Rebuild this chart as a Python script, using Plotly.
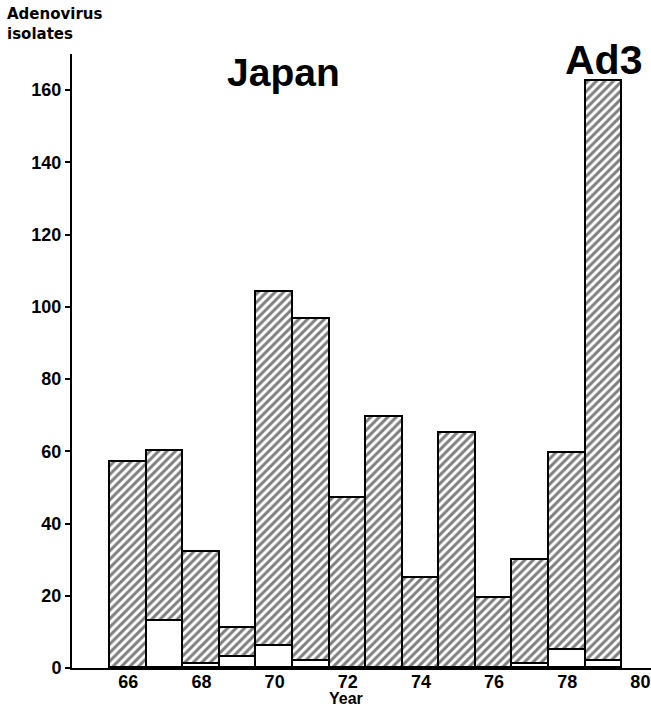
import plotly.graph_objects as go

years = [66, 67, 68, 69, 70, 71, 72, 73, 74, 75, 76, 77, 78, 79]
total_isolates = [57, 60, 32, 11, 104, 96.5, 47, 69.5, 25, 65, 19.5, 30, 59.5, 162.5]
other_isolates = [0, 13, 1, 3, 6, 2, 0, 0, 0, 0, 0, 1, 5, 2]
ad3_isolates = [t - o for t, o in zip(total_isolates, other_isolates)]

x_tick_vals = [66, 68, 70, 72, 74, 76, 78, 80]
y_tick_vals = [0, 20, 40, 60, 80, 100, 120, 140, 160]

W, H = 651, 707
L, R, T, B = 72, 0, 54, 39
pw, ph = W - L - R, H - T - B


def px(x):
    return (x - L) / pw


def py(y):
    return (H - B - y) / ph


fig = go.Figure()
fig.add_trace(go.Bar(
    x=years, y=other_isolates, width=1,
    marker=dict(color="white", line=dict(color="black", width=1.6)),
    showlegend=False, hoverinfo="skip"))
fig.add_trace(go.Bar(
    x=years, y=ad3_isolates, width=1,
    marker=dict(color="white",
                line=dict(color="black", width=1.6),
                pattern=dict(shape="/", fgcolor="black", bgcolor="white",
                             size=6, solidity=0.5)),
    showlegend=False, hoverinfo="skip"))

tick_font = dict(family="Liberation Sans, Arial, sans-serif", size=18,
                 color="black", weight="bold")

fig.update_layout(
    width=W, height=H, barmode="stack", bargap=0,
    margin=dict(l=L, r=R, t=T, b=B, pad=0),
    paper_bgcolor="white", plot_bgcolor="white",
    xaxis=dict(range=[64.46, 80.29], tickvals=x_tick_vals,
               ticktext=[str(v) for v in x_tick_vals],
               showgrid=False, zeroline=False, showline=True,
               linecolor="black", linewidth=2, ticks="",
               ticklabelstandoff=-4,
               tickfont=tick_font, automargin=False),
    yaxis=dict(range=[0, 170], tickvals=y_tick_vals,
               showgrid=False, zeroline=False, showline=True,
               linecolor="black", linewidth=2, ticks="outside",
               ticklen=5, tickwidth=1.5, tickcolor="black",
               tickfont=tick_font, automargin=False),
    annotations=[
        dict(text="Adenovirus<br>isolates", xref="paper", yref="paper",
             x=px(5), y=py(3), xanchor="left", yanchor="top", align="left",
             showarrow=False,
             font=dict(family="DejaVu Sans", size=15, color="black",
                       weight="bold")),
        dict(text="Japan", xref="paper", yref="paper",
             x=px(283), y=py(72), xanchor="center", yanchor="middle",
             showarrow=False,
             font=dict(family="Liberation Sans, Arial", size=39,
                       color="black", weight="bold")),
        dict(text="Ad3", xref="paper", yref="paper",
             x=px(603), y=py(60), xanchor="center", yanchor="middle",
             showarrow=False,
             font=dict(family="Liberation Sans, Arial", size=41,
                       color="black", weight="bold")),
        dict(text="Year", xref="paper", yref="paper",
             x=px(346), y=py(698), xanchor="center", yanchor="middle",
             showarrow=False,
             font=dict(family="Liberation Sans, Arial", size=16,
                       color="black", weight="bold")),
    ],
)

fig.write_html("out.html",
               config={"displayModeBar": False},
               post_script="document.body.style.margin='0px';"
                           "document.body.style.overflow='hidden';")
